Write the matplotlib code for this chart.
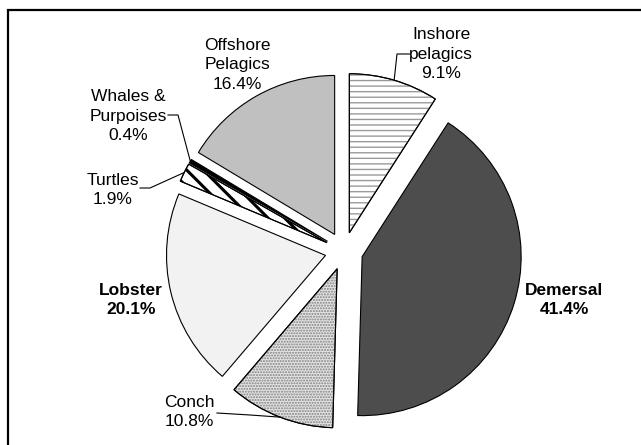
import math
import matplotlib
matplotlib.use('Agg')
import matplotlib.pyplot as plt
from matplotlib.patches import Wedge

# data, clockwise from 12 o'clock
categories = ['Inshore\npelagics', 'Demersal', 'Conch', 'Lobster', 'Turtles',
              'Whales &\nPurpoises', 'Offshore\nPelagics']
shares = [9.1, 41.4, 10.8, 20.1, 1.9, 0.4, 16.4]

# styling per slice
face_colors = ['white', '#4d4d4d', '#e4e4e4', '#f2f2f2', 'white', 'black', '#c0c0c0']
hatches = ['---', None, '......', None, '\\\\', None, None]
hatch_colors = ['#9a9a9a', None, '#808080', None, 'black', None, None]
hatch_widths = [1.0, None, 1.0, None, 2.2, None, None]
bold = [False, True, False, True, False, False, False]

# label layout in image pixels (x, y from top): text centre and leader kinks
W, H = 641, 445
label_pos = [(441, 54), (564, 300), (189, 412), (131, 300), (113, 190), (128, 116), (237, 65)]
leader_kinks = [[(410, 54), (397, 54)], None, [(217, 413), (250, 415)], None,
                [(140, 188), (150, 188)], [(168, 115), (178, 115)], None]

plt.rcParams['font.family'] = ['Liberation Sans', 'DejaVu Sans']

fig = plt.figure(figsize=(W / 100, H / 100), dpi=100)
ax = fig.add_axes([0, 0, 1, 1])

wedges, _ = ax.pie(shares, explode=[19] * len(shares), center=(344, H - 251), radius=159,
                   startangle=90, counterclock=False, colors=face_colors,
                   wedgeprops=dict(edgecolor='black', linewidth=0.8))

for i, w in enumerate(wedges):
    if hatches[i]:
        hp = Wedge(w.center, w.r, w.theta1, w.theta2, facecolor='none',
                   edgecolor=hatch_colors[i], linewidth=0, hatch=hatches[i], zorder=w.get_zorder() + 0.1)
        if hasattr(hp, 'set_hatch_linewidth'):
            hp.set_hatch_linewidth(hatch_widths[i])
        ax.add_patch(hp)
        outline = Wedge(w.center, w.r, w.theta1, w.theta2, facecolor='none',
                        edgecolor='black', linewidth=0.8, zorder=w.get_zorder() + 0.2)
        ax.add_patch(outline)

    # text label
    lx, ly = label_pos[i]
    txt = categories[i] + '\n' + '{:.1f}%'.format(shares[i])
    ax.text(lx, H - ly, txt, ha='center', va='center', fontsize=12.5,
            fontweight='bold' if bold[i] else 'normal', linespacing=1.35)

    # leader line to the middle of the slice arc
    if leader_kinks[i]:
        tm = math.radians((w.theta1 + w.theta2) / 2)
        ex = w.center[0] + w.r * math.cos(tm)
        ey = w.center[1] + w.r * math.sin(tm)
        xs = [p[0] for p in leader_kinks[i]] + [ex]
        ys = [H - p[1] for p in leader_kinks[i]] + [ey]
        ax.plot(xs, ys, color='black', linewidth=0.8)

# frame lines (left and top only, as cropped in the original)
ax.plot([8, 8, W], [0, H - 10, H - 10], color='black', linewidth=1.6, solid_joinstyle='miter')

ax.set_xlim(0, W)
ax.set_ylim(0, H)
ax.set_aspect('equal')
ax.set_axis_off()

plt.savefig('out.png', dpi=100)
